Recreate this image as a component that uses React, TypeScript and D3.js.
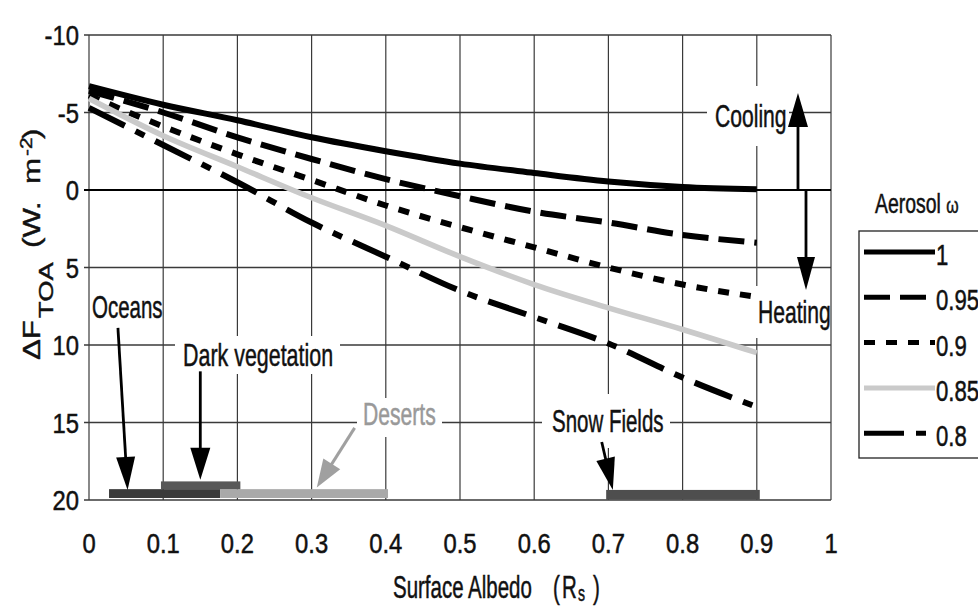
import React from "react";
import * as d3 from "d3";

// ---------- data ----------
const albedo = [0, 0.1, 0.2, 0.3, 0.4, 0.5, 0.6, 0.7, 0.8, 0.9];
const omega100 = [-6.7, -5.5, -4.5, -3.4, -2.5, -1.7, -1.1, -0.55, -0.2, -0.05];
const omega095 = [-6.4, -5.0, -3.4, -2.0, -0.7, 0.4, 1.4, 2.1, 2.9, 3.4];
const omega090 = [-6.1, -4.1, -2.3, -0.65, 1.0, 2.4, 3.7, 5.0, 6.1, 6.9];
const omega085 = [-5.9, -3.5, -1.5, 0.5, 2.3, 4.3, 6.1, 7.6, 9.0, 10.5];
const omega080 = [-5.3, -2.9, -0.5, 2.1, 4.3, 6.5, 8.2, 9.9, 12.1, 14.0];
const seriesLabels = ["1", "0.95", "0.9", "0.85", "0.8"];

const xTicks = [0, 0.1, 0.2, 0.3, 0.4, 0.5, 0.6, 0.7, 0.8, 0.9, 1];
const xTickLabels = ["0", "0.1", "0.2", "0.3", "0.4", "0.5", "0.6", "0.7", "0.8", "0.9", "1"];
const yTicks = [-10, -5, 0, 5, 10, 15, 20];
const yTickLabels = ["-10", "-5", "0", "5", "10", "15", "20"];

const surfaceNames = ["Oceans", "Dark vegetation", "Deserts", "Snow Fields"];
const surfaceLo = [0.027, 0.097, 0.177, 0.697];
const surfaceHi = [0.177, 0.204, 0.403, 0.904];

// ---------- layout ----------
const W = 978;
const H = 608;
const x = d3.scaleLinear().domain([0, 1]).range([89, 831]);
const y = d3.scaleLinear().domain([-10, 20]).range([35, 500]);
const FONT = "'Liberation Sans', Arial, Helvetica, sans-serif";

const seriesValues = [omega100, omega095, omega090, omega085, omega080];
const seriesStyle = [
  { color: "#000", width: 6, dash: "none" },
  { color: "#000", width: 6, dash: "26,10" },
  { color: "#000", width: 6, dash: "11,11" },
  { color: "#cacaca", width: 5.5, dash: "none" },
  { color: "#000", width: 6, dash: "40,12,10,12" },
];

const surfaceBand = [
  [19.3, 19.87],
  [18.8, 19.3],
  [19.3, 19.87],
  [19.35, 19.98],
];
const surfaceColor = ["#3a3a3a", "#585858", "#a9a9a9", "#4e4e4e"];
const surfaceOrder = [0, 2, 1, 3];

function T(props: any) {
  const { x: tx, y: ty, size = 32, anchor = "start", fill = "#111", sx = 0.64, children } = props;
  return (
    <text
      transform={`translate(${tx},${ty}) scale(${sx},1)`}
      fontSize={size}
      textAnchor={anchor}
      fill={fill}
      stroke={fill}
      strokeWidth={0.5}
      fontFamily={FONT}
    >
      {children}
    </text>
  );
}

function V(props: any) {
  // vertical (rotated -90) text, starting at (bx, ys)
  const { bx, ys, size = 24, children } = props;
  return (
    <text
      transform={`translate(${bx},${ys}) rotate(-90) scale(1.3,1)`}
      fontSize={size}
      fill="#111"
      stroke="#111"
      strokeWidth={0.4}
      fontFamily={FONT}
    >
      {children}
    </text>
  );
}

function Arrow(props: any) {
  const { x1, y1, x2, y2, len, wid, color = "#000", lw = 2.8 } = props;
  const dx = x2 - x1;
  const dy = y2 - y1;
  const L = Math.hypot(dx, dy);
  const ux = dx / L;
  const uy = dy / L;
  const bx = x2 - ux * len;
  const by = y2 - uy * len;
  const px = -uy;
  const py = ux;
  return (
    <g>
      <line x1={x1} y1={y1} x2={bx + ux * 2} y2={by + uy * 2} stroke={color} strokeWidth={lw} />
      <polygon
        points={`${x2},${y2} ${bx + (px * wid) / 2},${by + (py * wid) / 2} ${bx - (px * wid) / 2},${by - (py * wid) / 2}`}
        fill={color}
      />
    </g>
  );
}

export default function App() {
  const line = d3
    .line<number>()
    .x((_, i) => x(albedo[i]))
    .y((d) => y(d))
    .curve(d3.curveMonotoneX);

  const gridColor = "#3a3a3a";

  return (
    <svg
      width={W}
      height={H}
      viewBox={`0 0 ${W} ${H}`}
      style={{ position: "absolute", left: 0, top: 0, background: "#fff" }}
    >
      <rect x={0} y={0} width={W} height={H} fill="#fff" />
      {/* grid */}
      {xTicks.map((t) => (
        <line key={"gx" + t} x1={x(t)} x2={x(t)} y1={y(-10)} y2={y(20)} stroke={gridColor} strokeWidth={1.2} />
      ))}
      {yTicks.map((t) => (
        <line
          key={"gy" + t}
          x1={x(0) - 5}
          x2={x(1)}
          y1={y(t)}
          y2={y(t)}
          stroke={t === 0 ? "#000" : gridColor}
          strokeWidth={t === 0 ? 2.2 : 1.4}
        />
      ))}

      {/* white label backgrounds that interrupt the grid */}
      <rect x={707} y={86} width={82} height={60} fill="#fff" />
      <rect x={752} y={286} width={78} height={52} fill="#fff" />
      <rect x={175} y={336} width={165} height={38} fill="#fff" />
      <rect x={357} y={398} width={85} height={39} fill="#fff" />
      <rect x={542} y={394} width={128} height={54} fill="#fff" />

      {/* surface bars */}
      {surfaceOrder.map((i) => (
        <rect
          key={"bar" + i}
          x={x(surfaceLo[i])}
          width={x(surfaceHi[i]) - x(surfaceLo[i])}
          y={y(surfaceBand[i][0])}
          height={y(surfaceBand[i][1]) - y(surfaceBand[i][0])}
          fill={surfaceColor[i]}
        />
      ))}

      {/* curves */}
      {seriesValues.map((vals, i) => (
        <path
          key={"s" + i}
          d={line(vals) || ""}
          fill="none"
          stroke={seriesStyle[i].color}
          strokeWidth={seriesStyle[i].width}
          strokeDasharray={seriesStyle[i].dash}
        />
      ))}

      {/* y tick labels */}
      {yTicks.map((t, i) => (
        <T key={"yl" + t} x={79} y={y(t) + 10} anchor="end" size={28} sx={0.85}>
          {yTickLabels[i]}
        </T>
      ))}
      {/* x tick labels */}
      {xTicks.map((t, i) => (
        <T key={"xl" + t} x={x(t)} y={553} anchor="middle" size={28} sx={0.85}>
          {xTickLabels[i]}
        </T>
      ))}

      {/* y axis title */}
      <V bx={40} ys={360}>ΔF</V>
      <V bx={53} ys={318} size={21}>TOA</V>
      <V bx={40} ys={248}>(W.</V>
      <V bx={40} ys={184}>m</V>
      <V bx={32} ys={156} size={16}>-2</V>
      <V bx={40} ys={139}>)</V>

      {/* x axis title */}
      <T x={393} y={598}>Surface Albedo</T>
      <T x={553} y={598}>(</T>
      <T x={562} y={598}>R</T>
      <T x={578} y={601} size={22}>s</T>
      <T x={593} y={598}>)</T>

      {/* annotations */}
      <Arrow x1={x(0.9555)} y1={y(0)} x2={x(0.9555)} y2={y(-6.26)} len={34} wid={20} />
      <Arrow x1={x(0.9663)} y1={y(0)} x2={x(0.9663)} y2={y(6.45)} len={33} wid={18} />
      <Arrow x1={x(0.039)} y1={y(8.9)} x2={x(0.052)} y2={y(19.35)} len={33} wid={19} />
      <Arrow x1={x(0.15)} y1={y(11.7)} x2={x(0.15)} y2={y(18.7)} len={32} wid={20} />
      <Arrow x1={x(0.358)} y1={y(15.35)} x2={x(0.307)} y2={y(19.2)} len={28} wid={20} color="#a0a0a0" lw={3} />
      <Arrow x1={x(0.691)} y1={y(16.26)} x2={x(0.706)} y2={y(19.35)} len={32} wid={19} />

      <T x={715} y={127} sx={0.66}>Cooling</T>
      <T x={758} y={323} sx={0.66}>Heating</T>
      <T x={92} y={318}>{surfaceNames[0]}</T>
      <T x={183} y={366} sx={0.67}>{surfaceNames[1]}</T>
      <T x={363} y={425} fill="#999" sx={0.66}>{surfaceNames[2]}</T>
      <T x={552} y={432}>{surfaceNames[3]}</T>

      {/* legend */}
      <T x={875} y={213} size={27} sx={0.72}>
        Aerosol <tspan fontSize={22}>ω</tspan>
      </T>
      <rect x={859} y={231} width={140} height={227} fill="#fff" stroke="#222" strokeWidth={1.3} />
      {seriesLabels.map((lab, i) => {
        const cy = 252 + i * 45.3;
        return (
          <g key={"lg" + i}>
            <line
              x1={864}
              x2={935}
              y1={cy}
              y2={cy}
              stroke={seriesStyle[i].color}
              strokeWidth={5}
              strokeDasharray={seriesStyle[i].dash}
            />
            <T x={936} y={cy + 13} size={30} sx={0.74}>
              {lab}
            </T>
          </g>
        );
      })}
    </svg>
  );
}
